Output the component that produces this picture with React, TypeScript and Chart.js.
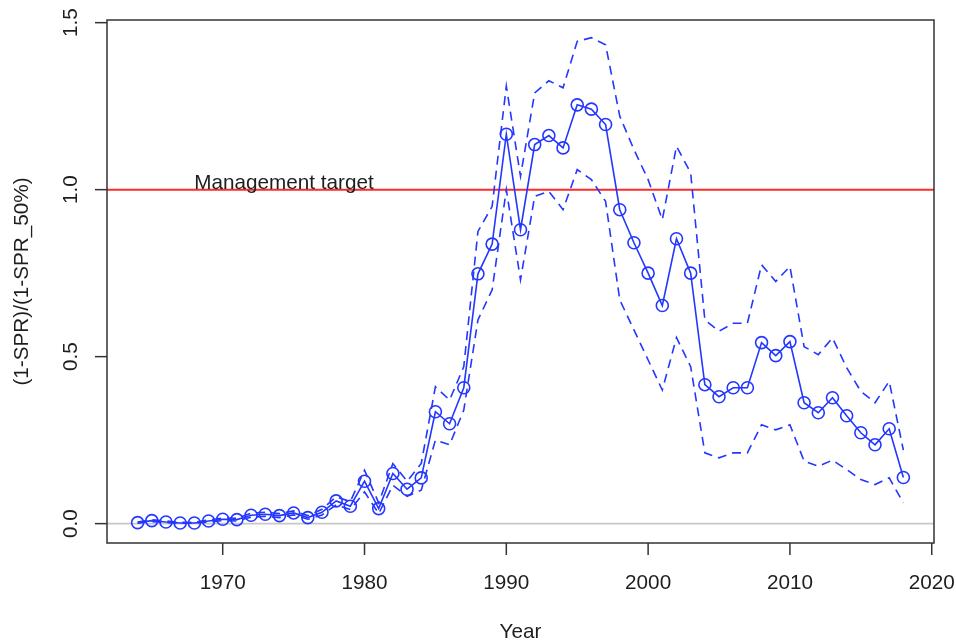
import React, { useEffect, useRef } from "react";
import { Chart, registerables } from "chart.js";

Chart.register(...registerables);

const years = [
  1964, 1965, 1966, 1967, 1968, 1969, 1970, 1971, 1972, 1973, 1974, 1975, 1976, 1977,
  1978, 1979, 1980, 1981, 1982, 1983, 1984, 1985, 1986, 1987, 1988, 1989, 1990, 1991,
  1992, 1993, 1994, 1995, 1996, 1997, 1998, 1999, 2000, 2001, 2002, 2003, 2004, 2005,
  2006, 2007, 2008, 2009, 2010, 2011, 2012, 2013, 2014, 2015, 2016, 2017, 2018,
];

const estimate = [
  0.003, 0.009, 0.005, 0.002, 0.002, 0.008, 0.013, 0.012, 0.025, 0.028, 0.024, 0.032, 0.018, 0.034,
  0.068, 0.052, 0.127, 0.045, 0.15, 0.103, 0.137, 0.335, 0.299, 0.407, 0.748, 0.837, 1.166, 0.88,
  1.135, 1.162, 1.125, 1.254, 1.241, 1.195, 0.94, 0.841, 0.75, 0.653, 0.853, 0.75, 0.416, 0.38,
  0.407, 0.407, 0.542, 0.503, 0.545, 0.362, 0.332, 0.377, 0.323, 0.272, 0.236, 0.284, 0.138,
];

const upper = [
  0.005, 0.012, 0.008, 0.004, 0.004, 0.011, 0.017, 0.016, 0.031, 0.034, 0.03, 0.038, 0.024, 0.043,
  0.08, 0.066, 0.16, 0.062, 0.18, 0.127, 0.18, 0.41, 0.37, 0.47, 0.875, 0.95, 1.31, 1.04,
  1.29, 1.326, 1.305, 1.444, 1.455, 1.434, 1.22, 1.12, 1.03, 0.91, 1.13, 1.05, 0.61, 0.576,
  0.6, 0.6, 0.775, 0.725, 0.77, 0.53, 0.506, 0.556, 0.467, 0.396, 0.362, 0.426, 0.22,
];

const lower = [
  0.001, 0.006, 0.003, 0.001, 0.001, 0.005, 0.009, 0.008, 0.019, 0.022, 0.018, 0.026, 0.013, 0.026,
  0.056, 0.042, 0.095, 0.03, 0.115, 0.082, 0.1, 0.25, 0.236, 0.34, 0.61, 0.7, 1.0, 0.73,
  0.98, 0.995, 0.94, 1.06, 1.03, 0.965, 0.67, 0.58, 0.49, 0.4, 0.557, 0.47, 0.212, 0.197,
  0.212, 0.212, 0.296, 0.281, 0.296, 0.187, 0.172, 0.19, 0.162, 0.132, 0.117, 0.137, 0.062,
];

const xTicks = [1970, 1980, 1990, 2000, 2010, 2020];
const yTicks = [0, 0.5, 1.0, 1.5];
const yTickLabels = ["0.0", "0.5", "1.0", "1.5"];
const targetValue = 1.0;
const targetLabel = "Management target";
const targetLabelYear = 1968;
const xTitle = "Year";
const yTitle = "(1-SPR)/(1-SPR_50%)";

const BLUE = "rgb(35,55,255)";
const FONT = '20.7px "Liberation Sans", Arial, sans-serif';
const TEXT = "#1e1e1e";

export default function App() {
  const ref = useRef<HTMLCanvasElement | null>(null);

  useEffect(() => {
    if (!ref.current) return;
    const toPts = (vals: number[]) => years.map((y, i) => ({ x: y, y: vals[i] }));

    const rPlot = {
      id: "rplot",
      beforeDatasetsDraw(chart: any) {
        const { ctx, chartArea: a, scales } = chart;
        const y0 = scales.y.getPixelForValue(0);
        const yT = scales.y.getPixelForValue(targetValue);
        ctx.save();
        ctx.lineWidth = 1.6;
        ctx.strokeStyle = "#c8c8c8";
        ctx.beginPath();
        ctx.moveTo(a.left, y0);
        ctx.lineTo(a.right, y0);
        ctx.stroke();
        ctx.lineWidth = 2;
        ctx.strokeStyle = "#ff2a2a";
        ctx.beginPath();
        ctx.moveTo(a.left, yT);
        ctx.lineTo(a.right, yT);
        ctx.stroke();
        ctx.fillStyle = TEXT;
        ctx.font = FONT;
        ctx.textAlign = "left";
        ctx.textBaseline = "alphabetic";
        ctx.fillText(targetLabel, scales.x.getPixelForValue(targetLabelYear), yT - 1);
        ctx.restore();
      },
      afterDraw(chart: any) {
        const { ctx, chartArea: a, scales } = chart;
        ctx.save();
        ctx.strokeStyle = "#333333";
        ctx.lineWidth = 1.5;
        ctx.strokeRect(a.left, a.top, a.right - a.left, a.bottom - a.top);
        ctx.fillStyle = TEXT;
        ctx.font = FONT;
        // x ticks
        ctx.textAlign = "center";
        ctx.textBaseline = "middle";
        xTicks.forEach((t) => {
          const px = scales.x.getPixelForValue(t);
          ctx.beginPath();
          ctx.moveTo(px, a.bottom);
          ctx.lineTo(px, a.bottom + 12);
          ctx.stroke();
          ctx.fillText(String(t), px, a.bottom + 40);
        });
        // y ticks
        yTicks.forEach((t, i) => {
          const py = scales.y.getPixelForValue(t);
          ctx.beginPath();
          ctx.moveTo(a.left, py);
          ctx.lineTo(a.left - 12, py);
          ctx.stroke();
          ctx.save();
          ctx.translate(a.left - 36, py);
          ctx.rotate(-Math.PI / 2);
          ctx.fillText(yTickLabels[i], 0, 0);
          ctx.restore();
        });
        // titles
        ctx.fillText(xTitle, (a.left + a.right) / 2, a.bottom + 89);
        ctx.save();
        ctx.translate(22, (a.top + a.bottom) / 2);
        ctx.rotate(-Math.PI / 2);
        ctx.fillText(yTitle, 0, 0);
        ctx.restore();
        ctx.restore();
      },
    };

    const chart = new Chart(ref.current, {
      type: "line",
      data: {
        datasets: [
          {
            label: "upper",
            data: toPts(upper),
            borderColor: BLUE,
            borderWidth: 1.6,
            borderDash: [9, 6],
            pointRadius: 0,
            fill: false,
            tension: 0,
          },
          {
            label: "lower",
            data: toPts(lower),
            borderColor: BLUE,
            borderWidth: 1.6,
            borderDash: [9, 6],
            pointRadius: 0,
            fill: false,
            tension: 0,
          },
          {
            label: "estimate",
            data: toPts(estimate),
            borderColor: BLUE,
            borderWidth: 1.6,
            pointRadius: 6,
            pointStyle: "circle",
            pointBorderWidth: 1.6,
            pointBorderColor: BLUE,
            pointBackgroundColor: "rgba(0,0,0,0)",
            fill: false,
            tension: 0,
          },
        ],
      },
      options: {
        animation: false,
        responsive: false,
        events: [],
        layout: { padding: { left: 0, top: 20, right: 22, bottom: 0 } },
        plugins: { legend: { display: false }, tooltip: { enabled: false } },
        scales: {
          x: {
            type: "linear",
            min: 1961.84,
            max: 2020.16,
            grid: { display: false },
            border: { display: false },
            ticks: { display: false },
            afterFit: (s: any) => {
              s.height = 100;
            },
          },
          y: {
            type: "linear",
            min: -0.058,
            max: 1.508,
            grid: { display: false },
            border: { display: false },
            ticks: { display: false },
            afterFit: (s: any) => {
              s.width = 107;
            },
          },
        },
      },
      plugins: [rPlot],
    });
    return () => chart.destroy();
  }, []);

  return (
    <div style={{ position: "absolute", left: 0, top: 0, width: 956, height: 643, background: "#fff" }}>
      <canvas ref={ref} width={956} height={643} style={{ width: 956, height: 643, display: "block" }} />
    </div>
  );
}
